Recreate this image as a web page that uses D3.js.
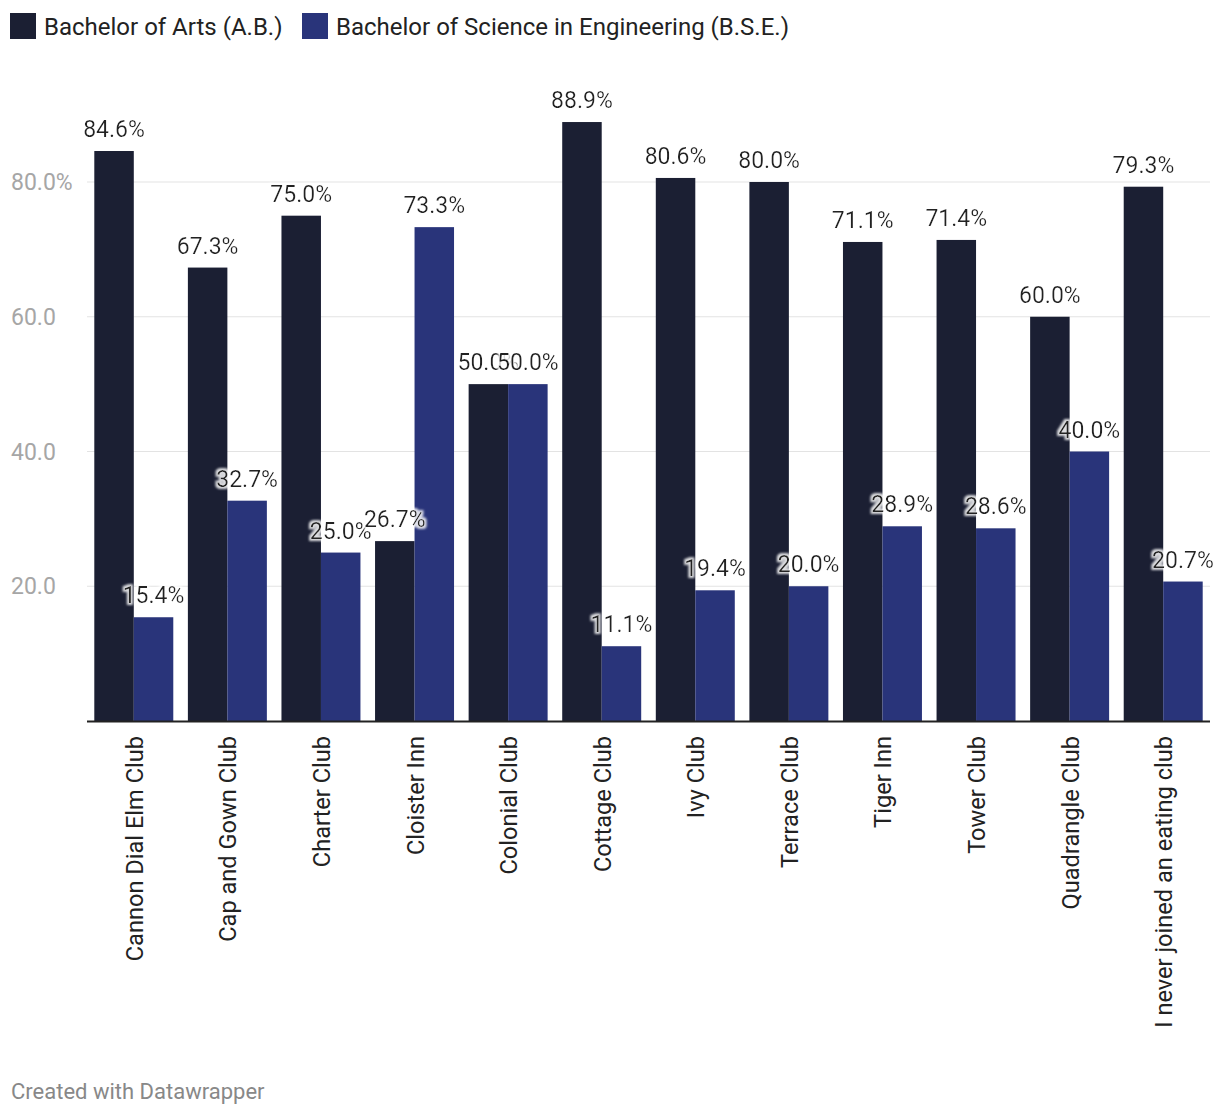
<!DOCTYPE html>
<html><head><meta charset="utf-8">
<script src="https://cdn.jsdelivr.net/npm/d3@7"></script>
<style>
body{margin:0;background:#fff;font-family:Roboto,sans-serif;}
</style></head><body>
<svg id="c" width="1220" height="1116"></svg>
<script>
const categories = ["Cannon Dial Elm Club","Cap and Gown Club","Charter Club","Cloister Inn","Colonial Club","Cottage Club","Ivy Club","Terrace Club","Tiger Inn","Tower Club","Quadrangle Club","I never joined an eating club"];
const seriesNames = ["Bachelor of Arts (A.B.)","Bachelor of Science in Engineering (B.S.E.)"];
const ab = [84.6,67.3,75.0,26.7,50.0,88.9,80.6,80.0,71.1,71.4,60.0,79.3];
const bse = [15.4,32.7,25.0,73.3,50.0,11.1,19.4,20.0,28.9,28.6,40.0,20.7];
const yTicks = [20,40,60,80];
const colors = ["#1b1f33","#29347a"];

const svg = d3.select("#c");
const defs = svg.append("defs");
const f = defs.append("filter").attr("id","halo").attr("x","-20%").attr("y","-30%").attr("width","140%").attr("height","160%");
f.append("feMorphology").attr("in","SourceAlpha").attr("operator","dilate").attr("radius",1.5).attr("result","d");
f.append("feGaussianBlur").attr("in","d").attr("stdDeviation",1.2).attr("result","b");
f.append("feFlood").attr("flood-color","#fff").attr("flood-opacity",0.85).attr("result","w");
f.append("feComposite").attr("in","w").attr("in2","b").attr("operator","in").attr("result","g");
const m = f.append("feMerge");
m.append("feMergeNode").attr("in","g");
m.append("feMergeNode").attr("in","SourceGraphic");

const pLeft=87, pRight=1210, pBase=721;
const y = d3.scaleLinear().domain([0,80]).range([pBase,182]);
const x = d3.scaleBand().domain(categories).range([pLeft,pRight]).paddingInner(0.156).paddingOuter(0.078);
const xs = d3.scaleBand().domain([0,1]).range([0,x.bandwidth()]);

// gridlines
svg.append("g").selectAll("line").data(yTicks).join("line")
 .attr("x1",pLeft).attr("x2",pRight).attr("y1",d=>y(d)).attr("y2",d=>y(d))
 .attr("stroke","#e3e3e3").attr("stroke-width",1);
svg.append("g").selectAll("text").data(yTicks).join("text")
 .attr("x",11).attr("y",d=>y(d)+8).attr("fill","#a6a6a6").attr("font-size",23)
 .text(d=>d3.format(".1f")(d)+(d===80?"%":""));

const data = [];
categories.forEach((c,i)=>{data.push({c,s:0,v:ab[i]});data.push({c,s:1,v:bse[i]});});

svg.append("g").selectAll("rect").data(data).join("rect")
 .attr("x",d=>x(d.c)+xs(d.s)).attr("width",xs.bandwidth())
 .attr("y",d=>y(d.v)).attr("height",d=>pBase-y(d.v)).attr("fill",d=>colors[d.s]);

// baseline
svg.append("line").attr("x1",pLeft).attr("x2",pRight).attr("y1",pBase+0.5).attr("y2",pBase+0.5).attr("stroke","#222").attr("stroke-width",2);

// value labels
svg.append("g").selectAll("text").data(data).join("text").attr("filter","url(#halo)")
 .attr("x",d=>x(d.c)+xs(d.s)+xs.bandwidth()/2).attr("y",d=>y(d.v)-14)
 .attr("text-anchor","middle").attr("font-size",23).attr("fill","#222")
 .text(d=>d3.format(".1f")(d.v)+"%");

// x labels
svg.append("g").selectAll("text").data(categories).join("text")
 .attr("transform",d=>`translate(${x(d)+x.bandwidth()/2+9},736) rotate(-90)`)
 .attr("text-anchor","end").attr("font-size",23.6).attr("fill","#222")
 .text(d=>d);

// legend
const lg = svg.append("g");
const lx=[10,302];
seriesNames.forEach((n,i)=>{
 lg.append("rect").attr("x",lx[i]).attr("y",13).attr("width",26).attr("height",26).attr("fill",colors[i]);
 lg.append("text").attr("x",lx[i]+34).attr("y",35).attr("font-size",24).attr("fill","#222").text(n);
});

svg.append("text").attr("x",11).attr("y",1099).attr("font-size",22).attr("fill","#888").text("Created with Datawrapper");
</script></body></html>
